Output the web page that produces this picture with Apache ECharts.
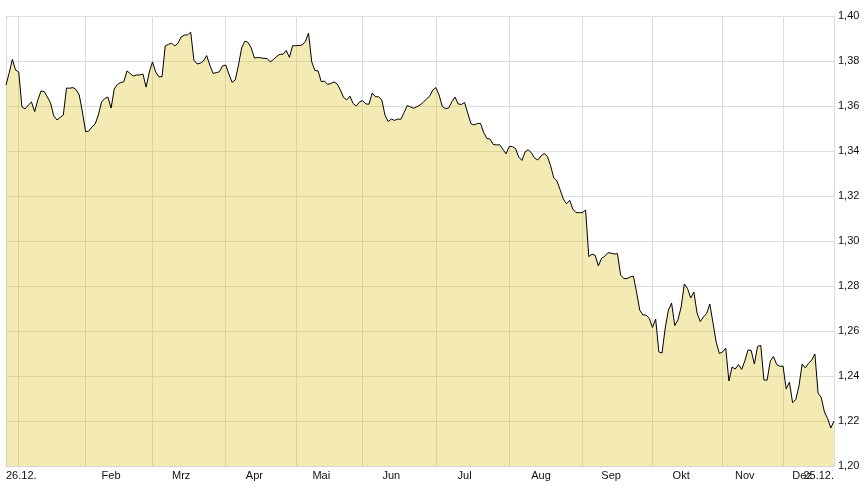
<!DOCTYPE html>
<html>
<head>
<meta charset="utf-8">
<script src="https://cdn.jsdelivr.net/npm/echarts@6/dist/echarts.min.js"></script>
<style>
  html, body { margin: 0; padding: 0; background: #ffffff; }
  #chart { width: 865px; height: 487px; }
</style>
</head>
<body>
<div id="chart"></div>
<script>
// EUR/USD-like daily closes, 26.12. to 25.12. (one value per trading day)
const rates = [
  1.3693, 1.3747, 1.3807, 1.3760, 1.3751, 1.3596, 1.3587, 1.3604, 1.3618, 1.3575,
  1.3627, 1.3667, 1.3664, 1.3640, 1.3613, 1.3556, 1.3538, 1.3549, 1.3560, 1.3680,
  1.3679, 1.3682, 1.3673, 1.3649, 1.3573, 1.3486, 1.3489, 1.3507, 1.3520, 1.3560,
  1.3618, 1.3633, 1.3640, 1.3591, 1.3676, 1.3696, 1.3704, 1.3708, 1.3756, 1.3744,
  1.3733, 1.3738, 1.3738, 1.3742, 1.3684, 1.3751, 1.3796, 1.3751, 1.3730, 1.3730,
  1.3867, 1.3874, 1.3879, 1.3867, 1.3879, 1.3907, 1.3915, 1.3916, 1.3928, 1.3804,
  1.3787, 1.3790, 1.3800, 1.3824, 1.3782, 1.3745, 1.3748, 1.3752, 1.3778, 1.3782,
  1.3742, 1.3705, 1.3716, 1.3782, 1.3858, 1.3888, 1.3883, 1.3858, 1.3813, 1.3816,
  1.3814, 1.3812, 1.3811, 1.3796, 1.3807, 1.3820, 1.3830, 1.3830, 1.3847, 1.3816,
  1.3868, 1.3868, 1.3869, 1.3871, 1.3886, 1.3924, 1.3796, 1.3758, 1.3756, 1.3708,
  1.3711, 1.3696, 1.3700, 1.3707, 1.3698, 1.3671, 1.3638, 1.3627, 1.3644, 1.3611,
  1.3600, 1.3618, 1.3624, 1.3609, 1.3608, 1.3658, 1.3641, 1.3641, 1.3627, 1.3560,
  1.3531, 1.3542, 1.3536, 1.3542, 1.3541, 1.3571, 1.3602, 1.3596, 1.3590, 1.3597,
  1.3604, 1.3616, 1.3631, 1.3643, 1.3671, 1.3682, 1.3649, 1.3598, 1.3588, 1.3591,
  1.3619, 1.3640, 1.3609, 1.3607, 1.3616, 1.3568, 1.3521, 1.3516, 1.3522, 1.3523,
  1.3482, 1.3456, 1.3453, 1.3429, 1.3427, 1.3428, 1.3408, 1.3387, 1.3420, 1.3420,
  1.3411, 1.3373, 1.3358, 1.3396, 1.3406, 1.3391, 1.3368, 1.3360, 1.3378, 1.3389,
  1.3376, 1.3335, 1.3281, 1.3267, 1.3228, 1.3187, 1.3165, 1.3181, 1.3142, 1.3126,
  1.3126, 1.3126, 1.3138, 1.2931, 1.2941, 1.2937, 1.2889, 1.2923, 1.2932, 1.2948,
  1.2946, 1.2942, 1.2944, 1.2849, 1.2833, 1.2833, 1.2840, 1.2844, 1.2773, 1.2693,
  1.2671, 1.2671, 1.2656, 1.2616, 1.2653, 1.2507, 1.2502, 1.2613, 1.2693, 1.2724,
  1.2624, 1.2649, 1.2707, 1.2809, 1.2789, 1.2747, 1.2773, 1.2680, 1.2642, 1.2662,
  1.2678, 1.2720, 1.2636, 1.2551, 1.2500, 1.2507, 1.2524, 1.2378, 1.2440, 1.2431,
  1.2451, 1.2429, 1.2467, 1.2516, 1.2513, 1.2453, 1.2531, 1.2536, 1.2382, 1.2382,
  1.2467, 1.2487, 1.2451, 1.2443, 1.2444, 1.2342, 1.2373, 1.2281, 1.2296, 1.2356,
  1.2453, 1.2436, 1.2456, 1.2471, 1.2498, 1.2324, 1.2304, 1.2240, 1.2211, 1.2169,
  1.2200
];

// x-axis: labels and the trading-day index at which each is shown
const xLabelTexts = ['26.12.', 'Feb', 'Mrz', 'Apr', 'Mai', 'Jun', 'Jul', 'Aug', 'Sep', 'Okt', 'Nov', '25.12.'];
const xLabelIdx   = [0, 33, 55, 78, 99, 121, 144, 168, 190, 212, 232, 260];
// the December label sits under the end date label, so it is drawn on its own axis
const decLabelText = 'Dez';
const decLabelIdx = 250;
// month boundary grid lines (trading-day index)
const monthStartIdx = [0, 4, 25, 46, 69, 91, 112, 135, 158, 181, 203, 225, 244, 260];

// y-axis
const yMin = 1.20, yMax = 1.40, yStep = 0.02;

const days = rates.map((_, i) => String(i));
const labelFont = { color: '#111111', fontFamily: 'Liberation Sans, Arial, sans-serif', fontSize: 11 };

const chart = echarts.init(document.getElementById('chart'), null, { renderer: 'canvas' });
chart.setOption({
  animation: false,
  backgroundColor: '#ffffff',
  grid: { left: 6, right: 31, top: 16, bottom: 21, containLabel: false, outerBoundsMode: 'none' },
  xAxis: [{
    type: 'category',
    data: days,
    boundaryGap: false,
    axisLine: { show: true, lineStyle: { color: '#d6d6d6', width: 1 } },
    axisTick: { show: false },
    axisLabel: Object.assign({
      show: true,
      interval: (idx) => xLabelIdx.indexOf(idx) >= 0,
      formatter: (v) => {
        const k = xLabelIdx.indexOf(Number(v));
        return k >= 0 ? xLabelTexts[k] : '';
      },
      margin: 4,
      hideOverlap: false,
      showMinLabel: true,
      showMaxLabel: true,
      alignMinLabel: 'left',
      alignMaxLabel: 'right'
    }, labelFont),
    splitLine: {
      show: true,
      interval: (idx) => monthStartIdx.indexOf(idx) >= 0,
      lineStyle: { color: '#dcdcdc', width: 1 }
    },
    z: 2
  }, {
    type: 'category',
    data: days,
    boundaryGap: false,
    position: 'bottom',
    axisLine: { show: false },
    axisTick: { show: false },
    splitLine: { show: false },
    axisLabel: Object.assign({
      show: true,
      interval: (idx) => idx === decLabelIdx,
      formatter: (v) => (Number(v) === decLabelIdx ? decLabelText : ''),
      margin: 4,
      hideOverlap: false
    }, labelFont),
    z: 1
  }],
  yAxis: {
    type: 'value',
    position: 'right',
    min: yMin,
    max: yMax,
    interval: yStep,
    axisLine: { show: true, lineStyle: { color: '#d0d0d0', width: 1 } },
    axisTick: { show: false },
    axisLabel: Object.assign({
      margin: 4,
      showMinLabel: true,
      showMaxLabel: true,
      formatter: (v) => v.toFixed(2).replace('.', ',')
    }, labelFont),
    splitLine: { show: true, lineStyle: { color: '#dcdcdc', width: 1 } }
  },
  series: [{
    type: 'line',
    xAxisIndex: 0,
    data: rates,
    showSymbol: false,
    symbol: 'none',
    smooth: false,
    silent: true,
    lineStyle: { color: '#000000', width: 1 },
    areaStyle: { color: 'rgba(222, 198, 40, 0.5)', origin: 'start' },
    z: 3
  }]
});
</script>
</body>
</html>
